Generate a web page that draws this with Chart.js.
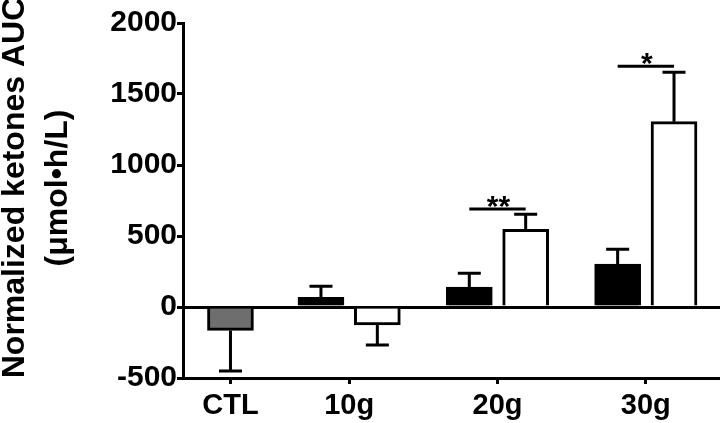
<!DOCTYPE html>
<html>
<head>
<meta charset="utf-8">
<script src="https://cdn.jsdelivr.net/npm/chart.js@4"></script>
<style>
  html, body { margin: 0; padding: 0; background: #fff; }
</style>
</head>
<body>
<canvas id="myChart" width="720" height="423"></canvas>
<script>
// Values
let categories = ['CTL', '10g', '20g', '30g'];
let ctlMean = [-165];
let ctlSem = [285];
let blackMean = [null, 68, 140, 303];
let blackSem = [null, 78, 98, 103];
let whiteMean = [null, -127, 547, 1305];
let whiteSem = [null, 140, 106, 349];
let yTicks = [-500, 0, 500, 1000, 1500, 2000];

// Significance lines between the black and white bar of a group
let sigGroups = ['20g', '30g'];
let sigLevels = [690, 1695];
let sigLabels = ['**', '*'];

let yTitle = ['Normalized ketones AUC', '(\u03bcmol\u2022h/L)'];

// Layout: where each group sits on the x scale, and the pair offset
let groupX = [0.2, 1, 2, 3];
let pairOffset = 0.19;

function makePoints(means, sems, shift) {
    let data = [];
    let sem = [];
    means.forEach((v, i) => {
        if (v !== null) {
            data.push({x: groupX[i] + shift, y: v});
            sem.push(sems[i]);
        }
    });
    return {data, sem};
}

let ctlPts = makePoints(ctlMean, ctlSem, 0);
let blackPts = makePoints(blackMean, blackSem, -pairOffset);
let whitePts = makePoints(whiteMean, whiteSem, pairOffset);

// Draw one-sided error bars from the bar end outwards
const errorBars = {
    id: 'errorBars',
    afterDatasetsDraw(chart) {
        let ctx = chart.ctx;
        let yScale = chart.scales.y;
        chart.data.datasets.forEach((ds, d) => {
            let meta = chart.getDatasetMeta(d);
            meta.data.forEach((bar, i) => {
                let v = ds.data[i].y;
                let end = v < 0 ? v - ds.sem[i] : v + ds.sem[i];
                let y0 = yScale.getPixelForValue(v);
                let y1 = yScale.getPixelForValue(end);
                ctx.save();
                ctx.strokeStyle = '#000';
                ctx.lineWidth = 3;
                ctx.beginPath();
                ctx.moveTo(bar.x, y0);
                ctx.lineTo(bar.x, y1);
                ctx.moveTo(bar.x - 11.5, y1);
                ctx.lineTo(bar.x + 11.5, y1);
                ctx.stroke();
                ctx.restore();
            });
        });
    }
};

// Significance lines with asterisks
const sigMarks = {
    id: 'sigMarks',
    afterDatasetsDraw(chart) {
        let ctx = chart.ctx;
        let xScale = chart.scales.x;
        let yScale = chart.scales.y;
        sigGroups.forEach((g, k) => {
            let gi = categories.indexOf(g);
            let xa = xScale.getPixelForValue(groupX[gi] - pairOffset);
            let xb = xScale.getPixelForValue(groupX[gi] + pairOffset);
            let yy = yScale.getPixelForValue(sigLevels[k]);
            ctx.save();
            ctx.strokeStyle = '#000';
            ctx.lineWidth = 3;
            ctx.beginPath();
            ctx.moveTo(xa, yy);
            ctx.lineTo(xb, yy);
            ctx.stroke();
            ctx.fillStyle = '#000';
            ctx.font = 'bold 30px "Liberation Sans"';
            ctx.textAlign = 'center';
            ctx.textBaseline = 'alphabetic';
            ctx.fillText(sigLabels[k], (xa + xb) / 2 + 1, yy + 7);
            ctx.restore();
        });
    }
};

// Two-line rotated y axis title
const yTitleDraw = {
    id: 'yTitleDraw',
    afterDraw(chart) {
        let ctx = chart.ctx;
        ctx.save();
        ctx.fillStyle = '#000';
        ctx.font = 'bold 32px "Liberation Sans"';
        ctx.textAlign = 'center';
        ctx.textBaseline = 'alphabetic';
        ctx.translate(0, 188);
        ctx.rotate(-Math.PI / 2);
        ctx.fillText(yTitle[0], 0, 24);
        ctx.fillText(yTitle[1], 0, 67);
        ctx.restore();
    }
};

let barStyle = {
    borderColor: '#000',
    borderWidth: 3,
    barThickness: 46,
    grouped: false,
    borderSkipped: 'start'
};

let ctx = document.getElementById('myChart').getContext('2d');

let chart = new Chart(ctx, {
    type: 'bar',
    data: {
        datasets: [
            Object.assign({label: 'CTL', data: ctlPts.data, sem: ctlPts.sem, backgroundColor: '#6e6e6e'}, barStyle),
            Object.assign({label: 'black', data: blackPts.data, sem: blackPts.sem, backgroundColor: '#000'}, barStyle),
            Object.assign({label: 'white', data: whitePts.data, sem: whitePts.sem, backgroundColor: '#fff'}, barStyle)
        ]
    },
    options: {
        responsive: false,
        animation: false,
        layout: {padding: {top: 23, right: 0, bottom: 0, left: 0}},
        plugins: {
            legend: {display: false},
            tooltip: {enabled: false}
        },
        scales: {
            x: {
                type: 'linear',
                offset: false,
                min: -0.12,
                max: 3.5,
                afterBuildTicks: s => { s.ticks = groupX.map(v => ({value: v})); },
                afterFit: s => { s.height = 45; },
                ticks: {
                    callback: (v, i) => categories[i],
                    autoSkip: false,
                    maxRotation: 0,
                    color: '#000',
                    padding: 5,
                    font: {family: 'Liberation Sans', size: 29, weight: 'bold'}
                },
                grid: {offset: false, drawOnChartArea: false, tickLength: 6, tickColor: '#000', tickWidth: 3},
                border: {color: '#000', width: 3}
            },
            y: {
                min: -500,
                max: 2000,
                afterBuildTicks: s => { s.ticks = yTicks.map(v => ({value: v})); },
                afterFit: s => { s.width = 183; },
                ticks: {
                    callback: v => String(v),
                    color: '#000',
                    padding: 0,
                    font: {family: 'Liberation Sans', size: 30, weight: 'bold'}
                },
                grid: {
                    color: c => (c.tick && c.tick.value === 0) ? '#000' : 'rgba(0,0,0,0)',
                    lineWidth: 3,
                    tickLength: 6,
                    tickColor: '#000',
                    tickWidth: 3
                },
                border: {color: '#000', width: 3}
            }
        }
    },
    plugins: [errorBars, sigMarks, yTitleDraw]
});
</script>
</body>
</html>
